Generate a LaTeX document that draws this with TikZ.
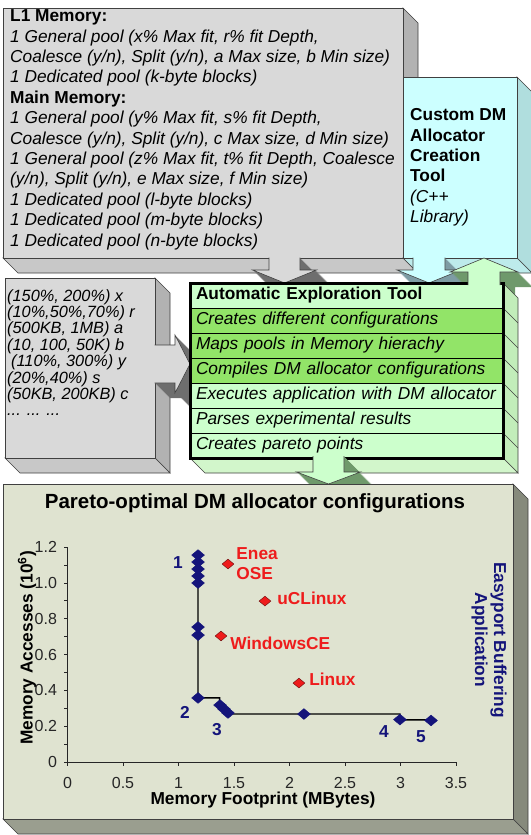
\documentclass[tikz,border=0pt]{standalone}
\usepackage{fontspec}
\setmainfont{Liberation Sans}
\usetikzlibrary{shapes.geometric}
\usetikzlibrary{positioning}

\definecolor{poolgrey}{HTML}{D9D9D9}
\definecolor{poolgreyR}{HTML}{B2B2B2}
\definecolor{poolgreyB}{HTML}{C8C8C8}
\definecolor{poolgreyD}{HTML}{6E6E6E}
\definecolor{toolcyan}{HTML}{CCFFFF}
\definecolor{toolcyanR}{HTML}{B0DEDE}
\definecolor{toolcyanB}{HTML}{BDEBEB}
\definecolor{toolcyanD}{HTML}{7E9CA4}
\definecolor{explight}{HTML}{CCFFCC}
\definecolor{expdark}{HTML}{92E468}
\definecolor{expR}{HTML}{C2EDBA}
\definecolor{expB}{HTML}{D2F6CB}
\definecolor{expD}{HTML}{6F996B}
\definecolor{chartbg}{HTML}{DFE3D0}
\definecolor{chartR}{HTML}{868A7C}
\definecolor{chartB}{HTML}{9A9E8F}
\definecolor{navy}{HTML}{14147A}
\definecolor{osred}{HTML}{EE1C1C}

\newcommand{\dep}{15}
\newcommand{\boxfont}{\fontsize{17.3}{20.4}\selectfont}
\newcommand{\listfont}{\fontsize{16.3}{16.4}\selectfont}
\newcommand{\titlefont}{\fontsize{20.5}{24}\selectfont}
\newcommand{\tickfont}{\fontsize{16}{18}\selectfont}
% right and bottom faces of the box (#1,#2)-(#3,#4)
\newcommand{\slab}[6]{%
  \filldraw[rim, fill=#5] (#3,#2) -- ++(\dep,\dep) -- (#3+\dep,#4+\dep) -- (#3,#4) -- cycle;
  \filldraw[rim, fill=#6] (#1,#4) -- (#3,#4) -- ++(\dep,\dep) -- (#1+\dep,#4+\dep) -- cycle;
}
% block arrows: centre, root, head base, tip, half shaft, half head
\newcommand{\varrow}[6]{(#1-#5,#2) -- (#1-#5,#3) -- (#1-#6,#3) -- (#1,#4) -- (#1+#6,#3) -- (#1+#5,#3) -- (#1+#5,#2)}
\newcommand{\harrow}[6]{(#2,#1-#5) -- (#3,#1-#5) -- (#3,#1-#6) -- (#4,#1) -- (#3,#1+#6) -- (#3,#1+#5) -- (#2,#1+#5)}

\tikzset{rim/.style={draw=black!75, line width=0.6pt}}
\tikzset{txt/.style={anchor=north west, inner sep=0pt, align=left}}
\tikzset{rowbox/.style={draw=black, line width=0.8pt, fill=explight, anchor=north west,
  minimum height=25pt, text width=301pt, inner xsep=6pt, inner ysep=0pt, outer sep=0pt,
  align=left, font=\boxfont\itshape}}
\tikzset{hotrow/.style={rowbox, fill=expdark}}
\tikzset{pareto/.style={diamond, fill=navy, draw=navy, inner sep=0pt, minimum width=13pt, minimum height=11pt}}
\tikzset{rtos/.style={diamond, fill=osred, draw=black!55!osred, inner sep=0pt, minimum width=12pt, minimum height=10pt}}
\tikzset{num/.style={inner sep=0pt, text=navy, font=\fontsize{17.3}{20}\selectfont\bfseries}}
\tikzset{oslab/.style={inner sep=0pt, align=left, text=osred, font=\fontsize{17.3}{20}\selectfont\bfseries}}
\tikzset{axis/.style={draw=black!85, line width=0.8pt}}

\begin{document}
\begin{tikzpicture}[x=1pt, y=-1pt]
\useasboundingbox (0,0) rectangle (530,835);

% memory pools
\slab{3}{8}{403}{258}{poolgreyR}{poolgreyB}
\filldraw[rim, fill=poolgrey] (3,8) rectangle (403,258);
\node[txt, font=\boxfont\itshape] (pools) at (10,9.5) {\textbf{\upshape L1 Memory:}\\
1 General pool (x\% Max fit, r\% fit Depth,\\
Coalesce (y/n), Split (y/n), a Max size, b Min size)\\
1 Dedicated pool (k-byte blocks)\\
\textbf{\upshape Main Memory:}\\
1 General pool (y\% Max fit, s\% fit Depth,\\
Coalesce (y/n), Split (y/n), c Max size, d Min size)\\
1 General pool (z\% Max fit, t\% fit Depth, Coalesce\\
(y/n), Split (y/n), e Max size, f Min size)\\
1 Dedicated pool (l-byte blocks)\\
1 Dedicated pool (m-byte blocks)\\
1 Dedicated pool (n-byte blocks)};

% allocator library
\slab{403}{77}{517}{258}{toolcyanR}{toolcyanB}
\filldraw[rim, fill=toolcyan] (403,77) rectangle (517,258);
\node[txt, font=\boxfont\bfseries] (lib) at (410,108.5) {Custom DM\\Allocator\\Creation\\Tool\\
\textit{\mdseries (C++}\\\textit{\mdseries Library)}};

% parameter ranges
\slab{5}{278}{155}{458}{poolgreyR}{poolgreyB}
\filldraw[rim, fill=poolgrey] (5,278) rectangle (155,458);
\node[txt, font=\listfont\itshape] (ranges) at (7,289) {(150\%, 200\%) x\\(10\%,50\%,70\%) r\\
(500KB, 1MB) a\\(10, 100, 50K) b\\\hspace*{4pt}(110\%, 300\%) y\\(20\%,40\%) s\\
(50KB, 200KB) c\\... ... ...};

% arrows into the tool
\foreach \t in {1,...,\dep} \fill[poolgreyD, shift={(\t,\t)}] \varrow{284.5}{257.5}{270}{283}{15.5}{32} -- cycle;
\fill[poolgrey] \varrow{284.5}{257.5}{270}{283}{15.5}{32} -- cycle;
\draw[rim] \varrow{284.5}{257.5}{270}{283}{15.5}{32};

\foreach \t in {1,...,\dep} \fill[toolcyanD, shift={(\t,\t)}] \varrow{429}{257.5}{270}{283}{16}{32} -- cycle;
\fill[toolcyan] \varrow{429}{257.5}{270}{283}{16}{32} -- cycle;
\draw[rim] \varrow{429}{257.5}{270}{283}{16}{32};

\foreach \t in {1,...,\dep} \fill[poolgreyD, shift={(\t,\t)}] \harrow{364}{154.5}{175}{190}{19}{29} -- cycle;
\fill[poolgrey] \harrow{364}{154.5}{175}{190}{19}{29} -- cycle;
\draw[rim] \harrow{364}{154.5}{175}{190}{19}{29};

\foreach \t in {1,...,\dep} \fill[expD, shift={(\t,\t)}] \varrow{484}{285}{272}{258}{16}{34} -- cycle;

% exploration tool
\slab{190}{283}{503}{458}{expR}{expB}
\node[rowbox, font=\boxfont\bfseries] (hdr) at (190,283) {Automatic Exploration Tool};
\node[hotrow, below=0pt of hdr] (r1) {Creates different configurations};
\node[hotrow, below=0pt of r1] (r2) {Maps pools in Memory hierachy};
\node[hotrow, below=0pt of r2] (r3) {Compiles DM allocator configurations};
\node[rowbox, below=0pt of r3] (r4) {\mbox{Executes application with DM allocator}};
\node[rowbox, below=0pt of r4] (r5) {Parses experimental results};
\node[rowbox, below=0pt of r5] (r6) {Creates pareto points};
\foreach \n in {hdr,r1,r2,r3,r4,r5} \draw[rim] (\n.south east) -- ++(\dep,\dep);
\draw[line width=3pt] (hdr.north west) rectangle (r6.south east);

\fill[explight] \varrow{484}{285}{272}{258}{16}{34} -- cycle;
\draw[rim] \varrow{484}{285}{272}{258}{16}{34};

\foreach \t in {1,...,\dep} \fill[expD, shift={(\t,\t)}] \varrow{328.5}{456}{472}{484}{15.5}{32} -- cycle;
\fill[explight] \varrow{328.5}{456}{472}{484}{15.5}{32} -- cycle;
\draw[rim] \varrow{328.5}{456}{472}{484}{15.5}{32};

% results
\slab{3}{484}{513}{819}{chartR}{chartB}
\filldraw[rim, fill=chartbg] (3,484) rectangle (513,819);
\node[font=\titlefont\bfseries] (title) at (255,503) {Pareto-optimal DM allocator configurations};
\node[rotate=90, font=\fontsize{17.3}{20}\selectfont\bfseries] (ylab) at (27,648) {Memory Accesses (10\textsuperscript{6})};
\node[font=\fontsize{17.3}{20}\selectfont\bfseries] (xlab) at (263,800) {Memory Footprint (MBytes)};
\node[rotate=-90, align=center, text=navy, font=\fontsize{17.3}{19}\selectfont\bfseries] (app) at (489,640) {Easyport Buffering\\Application};

\begin{scope}[shift={(67.5,762)}, x=111pt, y=179pt]
\draw[axis] (0,0) -- (3.5,0);
\draw[axis] (0,0) -- (0,1.2);
\foreach \x in {0,0.5,1,1.5,2,2.5,3,3.5} {
  \draw[axis] (\x,0) -- ++(0,-4pt);
  \node[font=\tickfont, text=black!85] at (\x,0) [yshift=-21pt] {\x};
}
\foreach \y in {0,0.1,...,1.21} \draw[axis] (0,\y) -- ++(-4pt,0);
\foreach \y in {0,0.2,0.4,0.6,0.8,1.0,1.2}
  \node[font=\tickfont, text=black!85, anchor=east] at (0,\y) [xshift=-7pt] {\y};

\draw[line width=1.4pt] (1.176,1.156) -- (1.176,0.358) -- (1.37,0.358) -- (1.37,0.318)
  -- (1.446,0.268) -- (2.995,0.268) -- (2.995,0.235) -- (3.275,0.235);
\foreach \x/\y [count=\i] in {1.176/1.156, 1.176/1.117, 1.176/1.078, 1.176/1.039,
    1.176/1.0, 1.176/0.754, 1.176/0.709, 1.176/0.358, 1.374/0.318, 1.41/0.296,
    1.446/0.274, 2.13/0.268, 2.995/0.237, 3.275/0.232}
  \node[pareto] (p\i) at (\x,\y) {};

\node[num] (n1) at (0.995,1.117) {1};
\node[num] (n2) at (1.059,0.279) {2};
\node[num] (n3) at (1.346,0.184) {3};
\node[num] (n4) at (2.851,0.168) {4};
\node[num] (n5) at (3.184,0.140) {5};

\node[rtos] (e1) at (1.446,1.106) {};
\node[rtos] (e2) at (1.779,0.899) {};
\node[rtos] (e3) at (1.383,0.704) {};
\node[rtos] (e4) at (2.085,0.441) {};
\node[oslab, right=2pt of e1] (ose) {Enea\\OSE};
\node[oslab, right=6pt of e2, yshift=3pt] (ucl) {uCLinux};
\node[oslab, right=3pt of e3, yshift=-7pt] (wce) {WindowsCE};
\node[oslab, right=4pt of e4, yshift=4pt] (lnx) {Linux};
\end{scope}
\end{tikzpicture}
\end{document}
